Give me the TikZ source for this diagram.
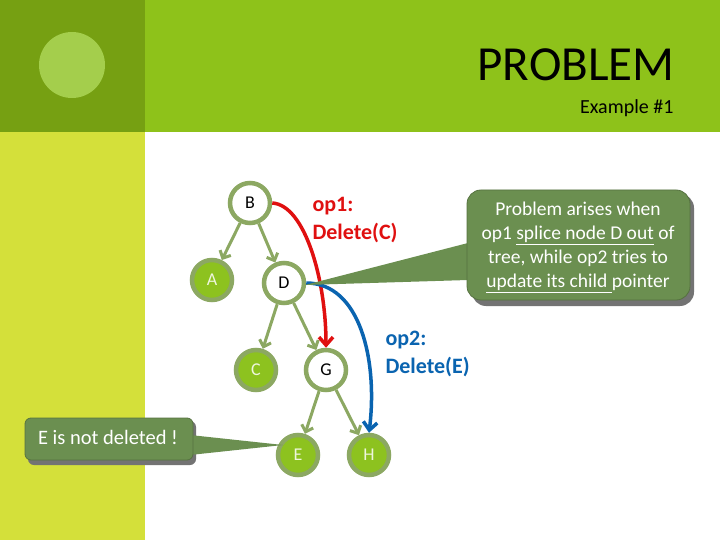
\documentclass[tikz,border=0pt]{standalone}
\usepackage{fontspec}
\setmainfont{Carlito}
\usetikzlibrary{arrows.meta}
\definecolor{topgreen}{HTML}{8EC21A}
\definecolor{topdark}{HTML}{76A012}
\definecolor{lime}{HTML}{D4E03A}
\definecolor{edgegreen}{HTML}{8CA862}
\definecolor{leafgreen}{HTML}{8DC21F}
\definecolor{callgreen}{HTML}{6B8F50}
\definecolor{opred}{HTML}{E01010}
\definecolor{opblue}{HTML}{0A64B0}
\tikzstyle{treenode}=[circle, draw=edgegreen, line width=4.5pt, minimum size=40pt, inner sep=0pt, font=\fontsize{18}{18}\selectfont]
\tikzstyle{wnode}=[treenode, fill=white]
\tikzstyle{gnode}=[treenode, fill=leafgreen, text=white!85!leafgreen]
\tikzstyle{tedge}=[draw=edgegreen, line width=3pt, -{Straight Barb[length=6pt,width=12pt]}]
\tikzstyle{callout}=[fill=callgreen, draw=callgreen!80!black, line width=0.8pt]
\tikzstyle{oplabel}=[align=left, anchor=north west, font=\bfseries\fontsize{22}{28}\selectfont]
\begin{document}
\begin{tikzpicture}[x=1pt, y=-1pt]
        \useasboundingbox (0,0) rectangle (720,540);
        % background
        \fill[white] (0,0) rectangle (720,540);
        \fill[topgreen] (0,0) rectangle (720,132);
        \fill[topdark] (0,0) rectangle (145,132);
        \fill[lime] (0,132) rectangle (145,540);
        \fill[leafgreen!80!white] (72,65) circle (33);
        \node[text=black, font=\fontsize{49}{49}\selectfont, anchor=east] (title) at (678,65) {PROBLEM};
        \node[text=black, font=\fontsize{20}{20}\selectfont, anchor=east] (sub) at (677,108) {Example \#1};
        % tree
        \node[wnode] (B) at (250,203) {B};
        \node[gnode] (A) at (212,280) {A};
        \node[wnode] (D) at (284,283) {D};
        \node[gnode] (C) at (256,370) {C};
        \node[wnode] (G) at (326,370) {G};
        \node[gnode] (E) at (298,455) {E};
        \node[gnode] (H) at (369,455) {H};
        \draw[tedge] (B) -- (A);
        \draw[tedge] (B) -- (D);
        \draw[tedge] (D) -- (C);
        \draw[tedge] (D) -- (G);
        \draw[tedge] (G) -- (E);
        \draw[tedge] (G) -- (H);
        % operations
        \draw[opred, line width=3.5pt, -{Straight Barb[length=8pt,width=14pt]}] (B.east) .. controls (305,205) and (326,280) .. (G.north);
        \draw[opblue, line width=3.5pt, -{Straight Barb[length=8pt,width=14pt]}] (D.east) .. controls (360,283) and (378,360) .. (H.north);
        \node[oplabel, text=opred] (op1) at (309,194) {op1:\\Delete(C)};
        \node[oplabel, text=opblue] (op2) at (382,328) {op2:\\Delete(E)};
        % callouts
        \fill[black!55, rounded corners=14pt] (472,194) rectangle (694,306);
        \fill[callgreen] (468,243) -- (305,285) -- (468,280) -- cycle;
        \draw[callout, rounded corners=14pt] (467,190) rectangle (690,300);
        \node[text=white, align=center, font=\fontsize{19.5}{24}\selectfont] (note1) at (578,247)
            {Problem arises when\\op1 \underline{splice node D out} of\\tree, while op2 tries to\\\underline{update its child }pointer};
        \fill[black!55, rounded corners=6pt] (28,421) rectangle (196,465);
        \fill[callgreen] (190,435) -- (283,445) -- (190,455) -- cycle;
        \draw[callout, rounded corners=6pt] (25,418) rectangle (193,460);
        \node[text=white, font=\fontsize{20.5}{20.5}\selectfont] (note2) at (108,437) {E is not deleted !};
    \end{tikzpicture}
\end{document}
